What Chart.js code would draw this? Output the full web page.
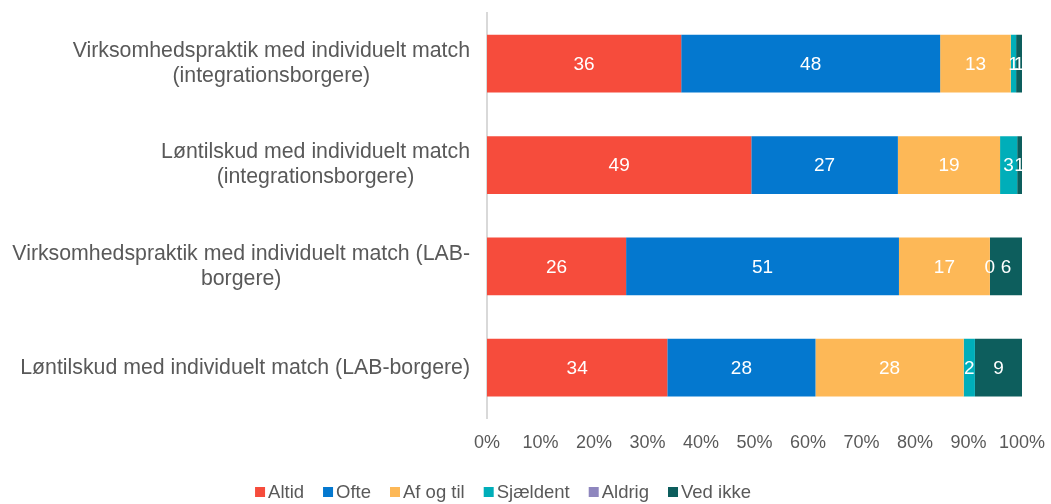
<!DOCTYPE html>
<html>
<head>
<meta charset="utf-8">
<script src="https://cdn.jsdelivr.net/npm/chart.js@4"></script>
<style>
  html, body { margin: 0; padding: 0; background: #fff; }
  #wrap { width: 1051px; height: 504px; position: relative; }
</style>
</head>
<body>
<div id="wrap"><canvas id="chart" width="1051" height="504"></canvas></div>
<script>
// categories, top to bottom
const categories = [
    ['Virksomhedspraktik med individuelt match', '(integrationsborgere)'],
    ['Løntilskud med individuelt match', '(integrationsborgere)'],
    ['Virksomhedspraktik med individuelt match (LAB-', 'borgere)'],
    ['Løntilskud med individuelt match (LAB-borgere)']
]
const seriesNames = ['Altid', 'Ofte', 'Af og til', 'Sjældent', 'Aldrig', 'Ved ikke']
const seriesColors = ['#F64C3C', '#0478CF', '#FDB857', '#00AEB9', '#8E86BE', '#0D5E5D']

// shares in percent (labels show rounded values)
const altid = [36.3, 49.4, 26.0, 33.7]
const ofte = [48.4, 27.4, 51.0, 27.7]
const afOgTil = [13.2, 19.1, 17.0, 27.7]
const sjaeldent = [1.0, 3.2, 0, 2.1]
const aldrig = [null, null, null, null]
const vedIkke = [1.1, 0.9, 6.0, 8.8]
const xTicks = [0, 10, 20, 30, 40, 50, 60, 70, 80, 90, 100]

const series = [altid, ofte, afOgTil, sjaeldent, aldrig, vedIkke]
const textColor = '#595959'
const fontFamily = '"Liberation Sans", Arial, sans-serif'

// y labels: right-aligned block, lines centred inside it (like Excel)
const yLabels = {
    id: 'yLabels',
    afterDraw(chart) {
        const ctx = chart.ctx
        const ys = chart.scales.y
        ctx.save()
        ctx.font = '21.3px ' + fontFamily
        ctx.fillStyle = textColor
        ctx.textAlign = 'center'
        ctx.textBaseline = 'middle'
        const right = ys.left - 17
        const lh = 25
        categories.forEach((lines, i) => {
            const y = ys.getPixelForValue(i)
            const w = Math.max(...lines.map(l => ctx.measureText(l).width))
            const cx = right - w / 2
            lines.forEach((l, j) => {
                ctx.fillText(l, cx, y + (j - (lines.length - 1) / 2) * lh)
            })
        })
        ctx.restore()
    }
}

// value labels in the middle of each segment
const valueLabels = {
    id: 'valueLabels',
    afterDatasetsDraw(chart) {
        const ctx = chart.ctx
        ctx.save()
        ctx.font = '19px ' + fontFamily
        ctx.fillStyle = '#fff'
        ctx.textAlign = 'center'
        ctx.textBaseline = 'middle'
        chart.data.datasets.forEach((ds, di) => {
            const meta = chart.getDatasetMeta(di)
            meta.data.forEach((bar, i) => {
                const v = ds.data[i]
                if (v === null) return
                const p = bar.getProps(['x', 'y', 'base'], true)
                ctx.fillText(String(Math.round(v)), (p.x + p.base) / 2, p.y + 1)
            })
        })
        ctx.restore()
    }
}

// legend drawn by hand: small square, tight gap
const customLegend = {
    id: 'customLegend',
    afterDraw(chart) {
        const ctx = chart.ctx
        ctx.save()
        ctx.font = '18.5px ' + fontFamily
        ctx.textBaseline = 'middle'
        const box = 10, gapText = 3, gapItem = 19
        const widths = seriesNames.map(n => box + gapText + ctx.measureText(n).width)
        const total = widths.reduce((a, b) => a + b, 0) + gapItem * (widths.length - 1)
        let x = 503 - total / 2
        const y = 492
        seriesNames.forEach((n, i) => {
            ctx.fillStyle = seriesColors[i]
            ctx.fillRect(x, y - box / 2, box, box)
            ctx.fillStyle = textColor
            ctx.textAlign = 'left'
            ctx.fillText(n, x + box + gapText, y + 1)
            x += widths[i] + gapItem
        })
        ctx.restore()
    }
}

const ctx = document.getElementById('chart').getContext('2d')
const chart = new Chart(ctx, {
    type: 'bar',
    data: {
        labels: categories.map(c => c.join(' ')),
        datasets: seriesNames.map((name, i) => ({
            label: name,
            data: series[i],
            backgroundColor: seriesColors[i],
            borderWidth: 0,
            categoryPercentage: 1,
            barPercentage: 0.57
        }))
    },
    options: {
        indexAxis: 'y',
        responsive: false,
        animation: false,
        layout: {
            padding: { left: 487, right: 29, top: 13, bottom: 36 }
        },
        scales: {
            x: {
                stacked: true,
                min: 0,
                max: 100,
                afterBuildTicks: (axis) => { axis.ticks = xTicks.map(v => ({ value: v })) },
                afterFit: (axis) => { axis.paddingLeft = 0; axis.paddingRight = 0 },
                grid: { display: false, drawTicks: false },
                border: { display: false },
                ticks: {
                    padding: 14,
                    color: textColor,
                    maxRotation: 0,
                    autoSkip: false,
                    font: { size: 18, family: fontFamily },
                    callback: (v) => v + '%'
                }
            },
            y: {
                stacked: true,
                grid: { display: false, drawTicks: false },
                border: { display: true, color: '#D9D9D9', width: 2 },
                ticks: { display: false }
            }
        },
        plugins: {
            legend: { display: false },
            tooltip: { enabled: false }
        }
    },
    plugins: [yLabels, valueLabels, customLegend]
})
</script>
</body>
</html>
